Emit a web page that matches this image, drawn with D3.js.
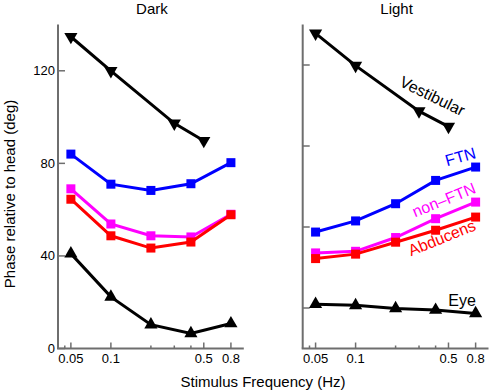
<!DOCTYPE html>
<html>
<head>
<meta charset="utf-8">
<script src="https://cdn.jsdelivr.net/npm/d3@7"></script>
<style>
body { margin: 0; background: #fff; }
svg text { font-family: "Liberation Sans", Arial, sans-serif; }
</style>
</head>
<body>
<div id="chart"></div>
<script>
// frequencies (Hz)
const freqs = [0.05, 0.1, 0.2, 0.4, 0.8];
const vestFreqs = [0.05, 0.1, 0.3, 0.5];
const majorTicks = [0.05, 0.1, 0.5, 0.8];
const minorTicks = [0.045, 0.2, 0.3, 0.4];

// Dark panel (deg)
const darkVest = [134.7, 120, 97.3, 89.8];
const darkFTN = [84, 71, 68.3, 71.2, 80.3];
const darkNonFTN = [69, 53.8, 48.7, 48.2, 58];
const darkAbd = [64.5, 48.7, 43.4, 46, 57.8];
const darkEye = [41, 22.3, 10.3, 6.5, 10.8];

// Light panel
const lightVest = [155.6, 139.7, 117.2, 109.6];
const lightFTN = [57.5, 63, 71.5, 83, 89.6];
const lightNonFTN = [47.2, 48, 54.8, 64.1, 72.3];
const lightAbd = [44.4, 46.6, 52.5, 58.4, 64.9];
const lightEye = [21.9, 21.3, 19.8, 19, 17.3];

const darkYTicks = [0, 40, 80, 120];
const lightYTicks = [20, 60, 100, 140];

const width = 489, height = 392;
const svg = d3.select('#chart').append('svg')
    .attr('width', width).attr('height', height);

const axisColor = '#6e6e6e';

function drawPanel(opt) {
    const x = d3.scaleLog().domain([0.04, 1]).range([opt.x0, opt.x0 + 185.8]);
    const y = d3.scaleLinear().domain([0, opt.yMax]).range([348.5, 24.5]);
    const g = svg.append('g');

    // axes lines
    g.append('line').attr('x1', opt.x0).attr('x2', opt.x0)
        .attr('y1', y(opt.yMax)).attr('y2', y(0))
        .attr('stroke', axisColor).attr('stroke-width', 2);
    g.append('line').attr('x1', opt.x0 - 1).attr('x2', x(1))
        .attr('y1', y(0)).attr('y2', y(0))
        .attr('stroke', axisColor).attr('stroke-width', 2);

    // y ticks (inward)
    g.selectAll('.yt').data(opt.yTicks).enter().append('line')
        .attr('x1', opt.x0).attr('x2', opt.x0 + 7)
        .attr('y1', d => y(d)).attr('y2', d => y(d))
        .attr('stroke', axisColor).attr('stroke-width', 1.5);
    if (opt.yLabels) {
        g.selectAll('.yl').data(opt.yTicks).enter().append('text')
            .attr('x', opt.x0 - 3).attr('y', d => y(d) + 4.5)
            .attr('text-anchor', 'end').attr('font-size', 13)
            .text(d => d);
    }

    // x ticks
    g.selectAll('.xt').data(majorTicks).enter().append('line')
        .attr('x1', d => x(d)).attr('x2', d => x(d))
        .attr('y1', y(0)).attr('y2', y(0) - 6)
        .attr('stroke', axisColor).attr('stroke-width', 1.5);
    g.selectAll('.xm').data(minorTicks).enter().append('line')
        .attr('x1', d => x(d)).attr('x2', d => x(d))
        .attr('y1', y(0)).attr('y2', y(0) - 3)
        .attr('stroke', axisColor).attr('stroke-width', 1.5);
    g.selectAll('.xl').data(majorTicks).enter().append('text')
        .attr('x', d => x(d)).attr('y', 363)
        .attr('text-anchor', 'middle').attr('font-size', 13)
        .text(d => d);

    g.append('text').attr('x', (opt.x0 + x(1)) / 2 + 1).attr('y', 14)
        .attr('text-anchor', 'middle').attr('font-size', 15)
        .text(opt.title);

    const line = d3.line().x(d => x(d[0])).y(d => y(d[1]));

    opt.series.forEach(s => {
        const pts = s.xs.map((f, i) => [f, s.vals[i]]);
        g.append('path').datum(pts).attr('d', line)
            .attr('fill', 'none').attr('stroke', s.color).attr('stroke-width', 3);
        if (s.marker === 'square') {
            g.selectAll(null).data(pts).enter().append('rect')
                .attr('x', d => x(d[0]) - 4.5).attr('y', d => y(d[1]) - 4.5)
                .attr('width', 9).attr('height', 9).attr('fill', s.color);
        } else {
            g.selectAll(null).data(pts).enter().append('path')
                .attr('d', d3.symbol().type(d3.symbolTriangle).size(75))
                .attr('transform', d => `translate(${x(d[0])},${y(d[1])}) rotate(${s.marker === 'down' ? 180 : 0})`)
                .attr('fill', s.color);
        }
    });
    return { x, y };
}

const black = '#000', blue = '#0000ff', magenta = '#ff00ff', red = '#ff0000';

drawPanel({
    x0: 58, yMax: 140, yTicks: darkYTicks, yLabels: true, title: 'Dark',
    series: [
        { xs: vestFreqs, vals: darkVest, color: black, marker: 'down' },
        { xs: freqs, vals: darkFTN, color: blue, marker: 'square' },
        { xs: freqs, vals: darkNonFTN, color: magenta, marker: 'square' },
        { xs: freqs, vals: darkAbd, color: red, marker: 'square' },
        { xs: freqs, vals: darkEye, color: black, marker: 'up' }
    ]
});

drawPanel({
    x0: 302.7, yMax: 160, yTicks: lightYTicks, yLabels: false, title: 'Light',
    series: [
        { xs: vestFreqs, vals: lightVest, color: black, marker: 'down' },
        { xs: freqs, vals: lightFTN, color: blue, marker: 'square' },
        { xs: freqs, vals: lightNonFTN, color: magenta, marker: 'square' },
        { xs: freqs, vals: lightAbd, color: red, marker: 'square' },
        { xs: freqs, vals: lightEye, color: black, marker: 'up' }
    ]
});

// series labels on the Light panel
const labels = [
    { text: 'Vestibular', x: 430, y: 101, rot: 26, color: black },
    { text: 'FTN', x: 462, y: 162, rot: -16, color: blue },
    { text: 'non\u2013FTN', x: 446, y: 205, rot: -22, color: magenta },
    { text: 'Abducens', x: 444, y: 243, rot: -22, color: red },
    { text: 'Eye', x: 462, y: 306, rot: 0, color: black }
];
svg.selectAll('.lab').data(labels).enter().append('text')
    .attr('transform', d => `translate(${d.x},${d.y}) rotate(${d.rot})`)
    .attr('text-anchor', 'middle').attr('font-size', 16)
    .attr('fill', d => d.color).text(d => d.text);

svg.append('text')
    .attr('transform', 'translate(15,194) rotate(-90)')
    .attr('text-anchor', 'middle').attr('font-size', 15)
    .text('Phase relative to head (deg)');

svg.append('text')
    .attr('x', 263).attr('y', 387)
    .attr('text-anchor', 'middle').attr('font-size', 15)
    .text('Stimulus Frequency (Hz)');
</script>
</body>
</html>
